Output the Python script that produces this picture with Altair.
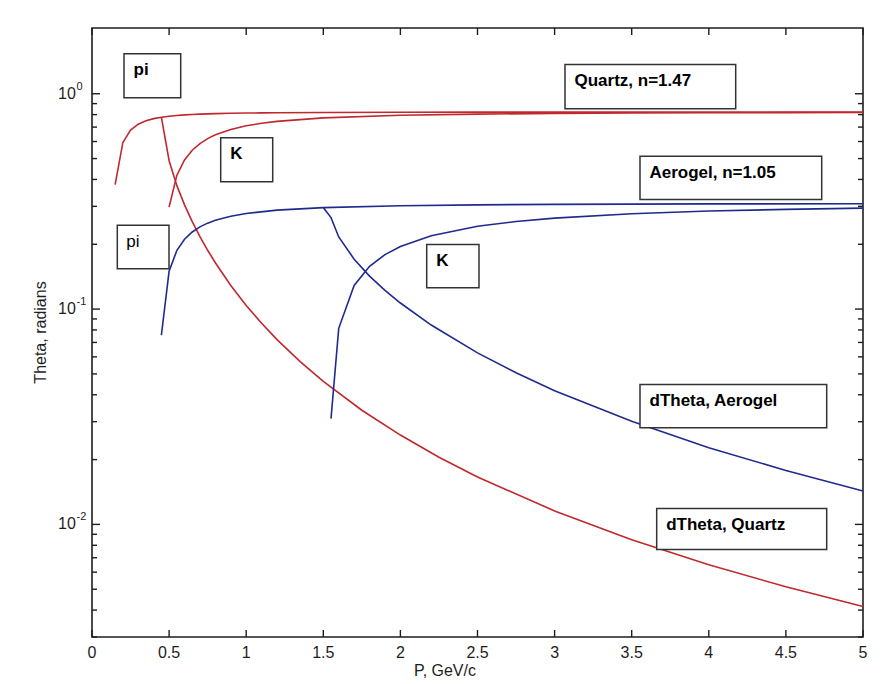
import altair as alt
import pandas as pd

# ---------------- data ----------------
# Quartz, n=1.47 : pion
p_qz_pi = [0.15, 0.2, 0.25, 0.3, 0.35, 0.4, 0.45, 0.5, 0.55, 0.6, 0.65, 0.7, 0.75, 0.8,
           0.9, 1.0, 1.1, 1.2, 1.5, 2.0, 2.5, 3.0, 3.5, 4.0, 4.5, 5.0]
th_qz_pi = [0.3785, 0.5925, 0.6776, 0.7223, 0.7490, 0.7663, 0.7781, 0.7866, 0.7928, 0.7976,
            0.8013, 0.8042, 0.8066, 0.8086, 0.8115, 0.8136, 0.8152, 0.8164, 0.8187, 0.8204,
            0.8212, 0.8217, 0.8219, 0.8221, 0.8222, 0.8223]
# Quartz : kaon
p_qz_k = [0.5, 0.55, 0.6, 0.65, 0.7, 0.75, 0.8, 0.9, 1.0, 1.1, 1.2, 1.5, 2.0, 2.5, 3.0,
          3.5, 4.0, 4.5, 5.0]
th_qz_k = [0.2978, 0.4175, 0.4929, 0.5467, 0.5873, 0.6191, 0.6445, 0.6827, 0.7096, 0.7293,
           0.7443, 0.7725, 0.7944, 0.8046, 0.8101, 0.8134, 0.8156, 0.8171, 0.8181]
# dTheta, Quartz
p_qz_d = [0.45, 0.5, 0.55, 0.6, 0.65, 0.7, 0.75, 0.8, 0.9, 1.0, 1.1, 1.2, 1.35, 1.5, 1.75,
          2.0, 2.25, 2.5, 3.0, 3.5, 4.0, 4.5, 5.0]
th_qz_d = [0.7781, 0.4888, 0.3753, 0.3047, 0.2546, 0.2169, 0.1875, 0.1641, 0.1288, 0.1040,
           0.0859, 0.0721, 0.0570, 0.0462, 0.0339, 0.0260, 0.0205, 0.0166, 0.01155, 0.00848,
           0.00650, 0.00513, 0.00416]
# Aerogel, n=1.05 : pion
p_ae_pi = [0.45, 0.5, 0.55, 0.6, 0.65, 0.7, 0.75, 0.8, 0.9, 1.0, 1.2, 1.5, 2.0, 2.5, 3.0,
           4.0, 5.0]
th_ae_pi = [0.0757, 0.1499, 0.1870, 0.2111, 0.2281, 0.2409, 0.2507, 0.2585, 0.2700, 0.2780,
            0.2880, 0.2960, 0.3021, 0.3049, 0.3064, 0.3079, 0.3086]
# Aerogel : kaon
p_ae_k = [1.55, 1.6, 1.7, 1.8, 1.9, 2.0, 2.2, 2.5, 2.75, 3.0, 3.5, 4.0, 4.5, 5.0]
th_ae_k = [0.0310, 0.0814, 0.1287, 0.1580, 0.1791, 0.1954, 0.2192, 0.2424, 0.2552, 0.2646,
           0.2773, 0.2852, 0.2905, 0.2943]
# dTheta, Aerogel
p_ae_d = [1.5, 1.55, 1.6, 1.7, 1.8, 1.9, 2.0, 2.2, 2.5, 2.75, 3.0, 3.5, 4.0, 4.5, 5.0]
th_ae_d = [0.2960, 0.2659, 0.2163, 0.1705, 0.1423, 0.1222, 0.1067, 0.0843, 0.0626, 0.0506,
           0.0418, 0.0301, 0.0227, 0.0178, 0.0143]

series_names = ["Quartz pi", "Quartz K", "dTheta Quartz", "Aerogel pi", "Aerogel K", "dTheta Aerogel"]
series_p = [p_qz_pi, p_qz_k, p_qz_d, p_ae_pi, p_ae_k, p_ae_d]
series_t = [th_qz_pi, th_qz_k, th_qz_d, th_ae_pi, th_ae_k, th_ae_d]

# axis ticks and labels
x_tick_values = [0, 0.5, 1, 1.5, 2, 2.5, 3, 3.5, 4, 4.5, 5]
x_tick_labels = ["0", "0.5", "1", "1.5", "2", "2.5", "3", "3.5", "4", "4.5", "5"]
y_major_values = [0.01, 0.1, 1]
y_major_exponents = ["-2", "-1", "0"]
y_minor_values = [0.003, 0.004, 0.005, 0.006, 0.007, 0.008, 0.009,
                  0.02, 0.03, 0.04, 0.05, 0.06, 0.07, 0.08, 0.09,
                  0.2, 0.3, 0.4, 0.5, 0.6, 0.7, 0.8, 0.9]

# annotation boxes (corners in data units)
box_labels = ["pi", "K", "Quartz, n=1.47", "Aerogel, n=1.05", "pi", "K",
              "dTheta, Aerogel", "dTheta, Quartz"]
box_bold = [True, True, True, True, False, True, True, True]
box_p1 = [0.2075, 0.8346, 3.0674, 3.5538, 0.1641, 2.1706, 3.5538, 3.6621]
box_p2 = [0.5752, 1.1719, 4.1744, 4.7322, 0.4994, 2.5097, 4.7646, 4.7646]
box_t1 = [1.534, 0.6247, 1.368, 0.5131, 0.2453, 0.1995, 0.04466, 0.01185]
box_t2 = [0.9581, 0.3902, 0.8517, 0.3229, 0.1539, 0.1256, 0.02810, 0.007645]

# ---------------- styling ----------------
RED = "#c0282e"
BLUE = "#1f2a8f"
INK = "#1e1e1e"
FONT = "Liberation Sans"
W, H = 771, 609

xscale = alt.Scale(domain=[0, 5], nice=False, zero=False)
yscale = alt.Scale(type="log", domain=[0.003, 2.02], nice=False)

rows = []
for name, ps, ts in zip(series_names, series_p, series_t):
    for p, t in zip(ps, ts):
        rows.append({"series": name, "p": p, "theta": t})
lines_df = pd.DataFrame(rows)

X = alt.X("p:Q", scale=xscale, axis=None)
Y = alt.Y("theta:Q", scale=yscale, axis=None)

lines = alt.Chart(lines_df).mark_line(strokeWidth=1.6).encode(
    x=X, y=Y,
    color=alt.Color("series:N", legend=None,
                    scale=alt.Scale(domain=series_names,
                                    range=[RED, RED, RED, BLUE, BLUE, BLUE])),
    detail="series:N",
    order="p:Q",
)

boxes_df = pd.DataFrame({"label": box_labels, "bold": box_bold,
                         "p1": box_p1, "p2": box_p2, "t1": box_t1, "t2": box_t2})

boxes = alt.Chart(boxes_df).mark_rect(fill="white", stroke="#333333", strokeWidth=1.5).encode(
    x=alt.X("p1:Q", scale=xscale, axis=None), x2="p2:Q",
    y=alt.Y("t1:Q", scale=yscale, axis=None), y2="t2:Q",
)
box_text_bold = alt.Chart(boxes_df[boxes_df["bold"]]).mark_text(
    align="left", baseline="middle", dx=9.5, dy=16.5, fontSize=17, fontWeight="bold",
    font=FONT, color="black").encode(
    x=alt.X("p1:Q", scale=xscale, axis=None),
    y=alt.Y("t1:Q", scale=yscale, axis=None), text="label:N")
box_text_norm = alt.Chart(boxes_df[~boxes_df["bold"]]).mark_text(
    align="left", baseline="middle", dx=9, dy=17, fontSize=17,
    font=FONT, color="black").encode(
    x=alt.X("p1:Q", scale=xscale, axis=None),
    y=alt.Y("t1:Q", scale=yscale, axis=None), text="label:N")

# ticks (inward, on all four sides)
xt_df = pd.DataFrame({"p": x_tick_values, "label": x_tick_labels})
ymaj_df = pd.DataFrame({"theta": y_major_values, "exp": y_major_exponents, "base": ["10"] * 3})
ymin_df = pd.DataFrame({"theta": y_minor_values})

tick_style = dict(color=INK, strokeWidth=1.4)
xt_bottom = alt.Chart(xt_df).mark_rule(**tick_style).encode(x=X, y=alt.value(H), y2=alt.value(H - 7))
xt_top = alt.Chart(xt_df).mark_rule(**tick_style).encode(x=X, y=alt.value(0), y2=alt.value(7))
ymaj_left = alt.Chart(ymaj_df).mark_rule(**tick_style).encode(y=Y, x=alt.value(0), x2=alt.value(8))
ymaj_right = alt.Chart(ymaj_df).mark_rule(**tick_style).encode(y=Y, x=alt.value(W), x2=alt.value(W - 8))
ymin_left = alt.Chart(ymin_df).mark_rule(**tick_style).encode(y=Y, x=alt.value(0), x2=alt.value(5))
ymin_right = alt.Chart(ymin_df).mark_rule(**tick_style).encode(y=Y, x=alt.value(W), x2=alt.value(W - 5))

# tick labels
x_labels = alt.Chart(xt_df).mark_text(fontSize=16, font=FONT, color=INK, baseline="middle",
                                      align="center").encode(x=X, y=alt.value(H + 15.5), text="label:N")
y_base = alt.Chart(ymaj_df).mark_text(fontSize=16, font=FONT, color=INK, baseline="middle",
                                      align="left").encode(y=Y, x=alt.value(-34), text="base:N")
y_exp = alt.Chart(ymaj_df).mark_text(fontSize=11, font=FONT, color=INK, baseline="middle",
                                     align="left", dy=-7).encode(y=Y, x=alt.value(-15.5), text="exp:N")

# axis titles
title_df = pd.DataFrame({"t": ["P, GeV/c"]})
x_title = alt.Chart(title_df).mark_text(fontSize=16, font=FONT, color=INK, baseline="middle",
                                        align="center").encode(x=alt.value(353), y=alt.value(H + 34), text="t:N")
ytitle_df = pd.DataFrame({"t": ["Theta, radians"]})
y_title = alt.Chart(ytitle_df).mark_text(fontSize=16, font=FONT, color=INK, baseline="middle",
                                         align="center", angle=270).encode(
    x=alt.value(-51.5), y=alt.value(H / 2), text="t:N")

chart = alt.layer(
    lines, boxes, box_text_bold, box_text_norm,
    xt_bottom, xt_top, ymaj_left, ymaj_right, ymin_left, ymin_right,
    x_labels, y_base, y_exp, x_title, y_title,
).properties(
    width=W, height=H,
    autosize=alt.AutoSizeParams(type="none"),
    padding={"left": 84, "top": 20, "right": 14, "bottom": 47},
    background="white",
).configure_view(stroke=INK, strokeWidth=1.6)

chart.save("out.html", embed_options={"renderer": "svg", "actions": False})
